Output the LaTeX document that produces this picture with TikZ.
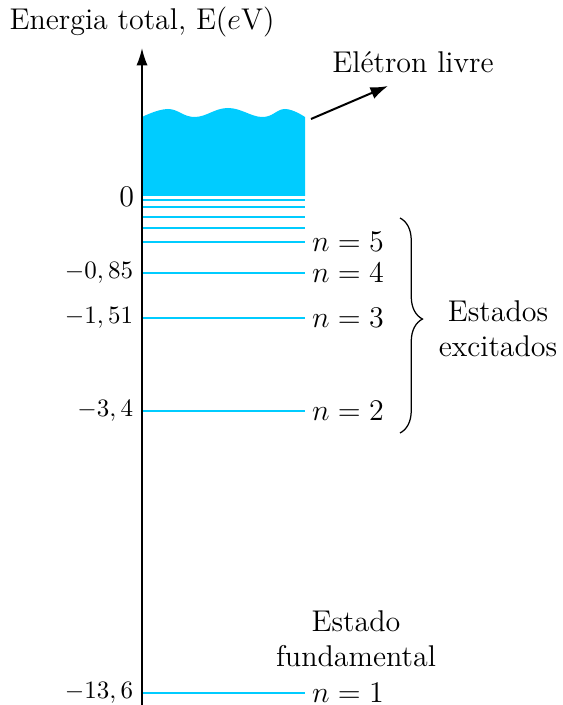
\documentclass[tikz,border=0pt]{standalone}
\usepackage{fontspec}
\usetikzlibrary{arrows.meta,decorations.pathreplacing}

\definecolor{nivelcor}{RGB}{0,204,255}

\begin{document}
\begin{tikzpicture}[x=0.4pt,y=-0.4pt,
    nivel/.style={draw=nivelcor, line width=0.8pt},
    rotulo/.style={font=\large, anchor=west, inner sep=1pt},
    valor/.style={anchor=east, inner sep=1pt},
    texto/.style={font=\large, align=center, inner sep=1pt}]

\useasboundingbox (0,0) rectangle (562,705);

% Define x-limits of the levels
\def\xa{142}
\def\xb{305}

% --- Continuum (free electron) ---
\fill[nivelcor] plot[smooth, tension=0.7] coordinates
    {(\xa,117) (168,109) (195,117) (228,108) (262,117) (285,109) (\xb,117)}
    -- (\xb,196) -- (\xa,196) -- cycle;

% --- Energy levels ---
\foreach \y in {200,207,217,228,242,273,318,411,693}
    \draw[nivel] (\xa,\y) -- (\xb,\y);

% --- Axis ---
\node[font=\large, inner sep=1pt] (eixo) at (142,22) {Energia total, E($e$V)};
\coordinate (base) at (\xa,705);
\coordinate (topo) at (\xa,48);
\draw[line width=0.7pt, -{Latex[length=7pt, width=4.5pt]}] (base) -- (topo);

% --- Values on the axis ---
\node[valor, font=\large] (zero) at (137,197) {$0$};
\node[valor] (v4) at (136,273) {$-0,85$};
\node[valor] (v3) at (136,318) {$-1,51$};
\node[valor] (v2) at (136,411) {$-3,4$};
\node[valor] (v1) at (136,693) {$-13,6$};

% --- Quantum numbers ---
\node[rotulo] (n5) at (309,242) {$n=5$};
\node[rotulo] (n4) at (309,273) {$n=4$};
\node[rotulo] (n3) at (309,318) {$n=3$};
\node[rotulo] (n2) at (309,411) {$n=2$};
\node[rotulo] (n1) at (309,693) {$n=1$};

% --- Free electron ---
\node[texto] (livre) at (413,62) {Elétron livre};
\coordinate (saida) at (311,119);
\coordinate (ponta) at (388,86);
\draw[line width=0.8pt, -{Latex[length=7pt, width=5pt]}] (saida) -- (ponta);

% --- Excited states ---
\draw[line width=0.5pt, decorate,
    decoration={brace, amplitude=9pt, aspect=0.47}] (400,218) -- (400,433);
\node[texto] (excitados) at (498,329) {Estados\\excitados};

% --- Ground state ---
\node[texto] (fundamental) at (356,639) {Estado\\fundamental};

\end{tikzpicture}
\end{document}
